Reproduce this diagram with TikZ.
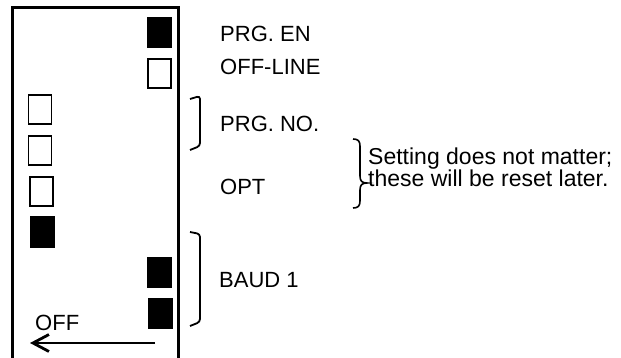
\documentclass[tikz,border=0pt]{standalone}
\usepackage{fontspec}
\setmainfont{Liberation Sans}
\usetikzlibrary{arrows.meta}
\begin{document}
\begin{tikzpicture}[x=1pt,y=-1pt,
  lbl/.style={anchor=base west,inner sep=0pt,font=\fontsize{22}{22}\selectfont},
  notelbl/.style={anchor=base west,inner sep=0pt,align=left,font=\fontsize{23}{22}\selectfont},
  swon/.style={fill=black,draw=none,minimum width=25pt,minimum height=31pt,inner sep=0pt},
  swoff/.style={draw=black,line width=1.8pt,fill=white,minimum width=23pt,minimum height=29pt,inner sep=0pt},
  brk/.style={line width=1.8pt,rounded corners=3pt},
  frame/.style={line width=3pt}]
\useasboundingbox (0,0) rectangle (621,358);
% housing
\draw[frame] (12,360) -- (12,8) -- (178,8) -- (178,360);
% switches
\node[swon]  (s1) at (159,32.5) {};
\node[swoff] (s2) at (159.5,73.5) {};
\node[swoff] (s3) at (40,109.5) {};
\node[swoff] (s4) at (40,150.5) {};
\node[swoff] (s5) at (41.5,191.5) {};
\node[swon]  (s6) at (42,232) {};
\node[swon]  (s7) at (159,272.5) {};
\node[swon]  (s8) at (160,313) {};
% labels
\node[lbl] (l1) at (220,42) {PRG. EN};
\node[lbl] (l2) at (220,75) {OFF-LINE};
\node[lbl] (l3) at (220,132) {PRG. NO.};
\node[lbl] (l4) at (220,195) {OPT};
\node[lbl] (l5) at (219,287) {BAUD 1};
\node[notelbl] (note) at (368,187) {Setting does not matter;\\these will be reset later.};
\node[lbl] (off) at (35,330) {OFF};
% brackets
\draw[brk] (190,99) -- (200,96) -- (200,146) -- (190,150);
\draw[brk] (190,232) -- (200,234) -- (200,322) -- (190,326);
% curly brace
\draw[line width=1.6pt] (353,139) .. controls (358,139) and (360,141) .. (360,146)
  -- (360,176) .. controls (360,181) and (362,183) .. (367,183)
  .. controls (362,183) and (360,185) .. (360,190)
  -- (360,201) .. controls (360,206) and (358,208) .. (353,208);
% arrow
\coordinate (a1) at (155,343);
\coordinate (a2) at (30,343);
\draw[line width=2pt,-{Straight Barb[length=16pt,width=17pt,line width=2.8pt]}] (a1) -- (a2);
\end{tikzpicture}
\end{document}
